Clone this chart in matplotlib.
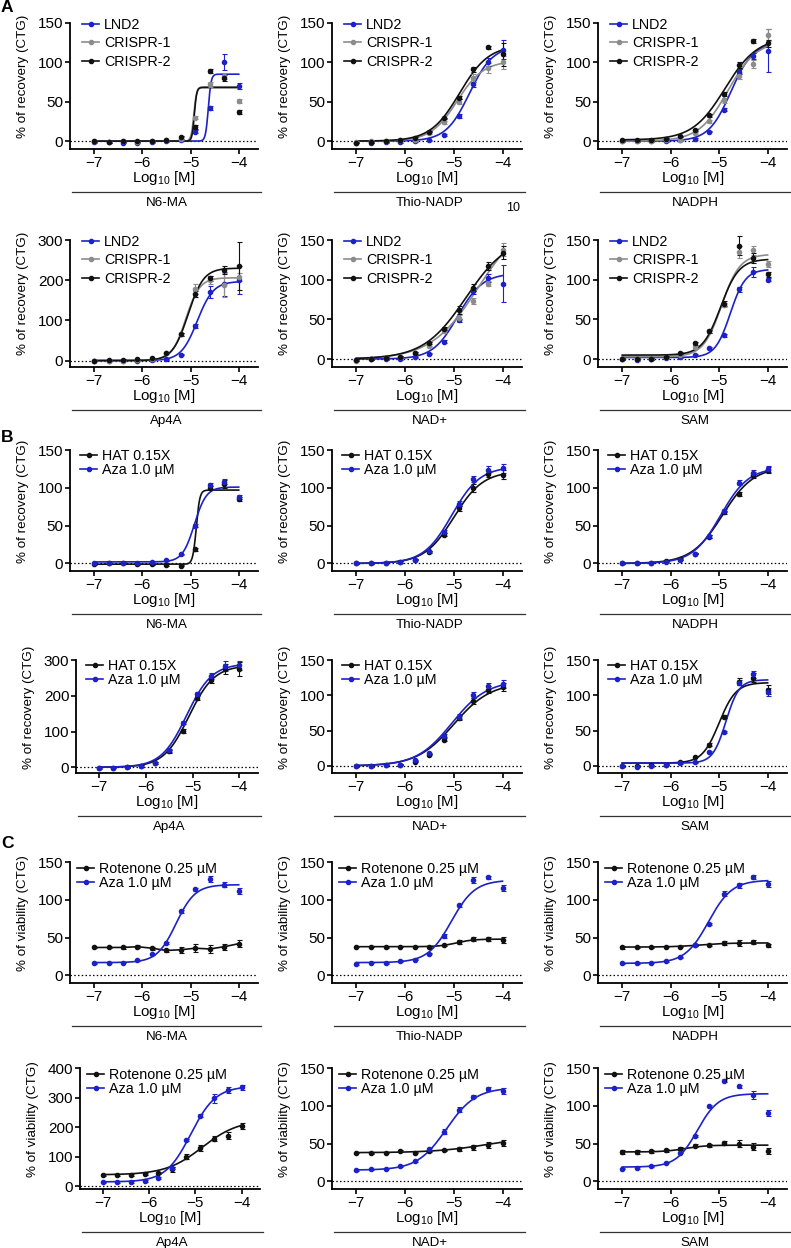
import numpy as np
import matplotlib.pyplot as plt
from matplotlib.lines import Line2D

plt.rcParams['font.family'] = ['Liberation Sans', 'DejaVu Sans']
plt.rcParams['mathtext.fontset'] = 'custom'
plt.rcParams['mathtext.rm'] = 'Liberation Sans'
plt.rcParams['mathtext.it'] = 'Liberation Sans'

# ---- data ----
log_conc = [-7.0, -6.7, -6.4, -6.1, -5.8, -5.5, -5.2, -4.9, -4.6, -4.3, -4.0]
compounds = ["N6-MA", "Thio-NADP", "NADPH", "Ap4A", "NAD+", "SAM"]

labels_a = ["LND2", "CRISPR-1", "CRISPR-2"]
labels_b = ["HAT 0.15X", "Aza 1.0 µM"]
labels_c = ["Rotenone 0.25 µM", "Aza 1.0 µM"]

BLUE = '#1c22c8'
GRAY = '#8c8c8c'
BLACK = '#111111'
colors_a = [BLUE, GRAY, BLACK]
colors_b = [BLACK, BLUE]
colors_c = [BLACK, BLUE]

# fit params: (bottom, top, logEC50, hill); None -> points joined
# A: LND2 vs CRISPR lines
a_n6ma = [[-1, -1, -2, -2, -1, 0, 1, 12, 42, 100, 70],
          [0, -1, 0, -1, 0, 1, 3, 30, 72, 83, 51],
          [0, -1, 0, 0, 0, 1, 5, 18, 89, 80, 37]]
a_n6ma_err = [[1, 1, 1, 1, 1, 1, 1, 2, 3, 10, 4],
              [1, 1, 1, 1, 1, 1, 2, 2, 3, 4, 3],
              [1, 1, 1, 1, 1, 1, 2, 3, 3, 4, 2]]
a_n6ma_fit = [(0, 85, -4.63, 15), (0, 69, -4.93, 15), (0, 68, -4.92, 18)]

a_thio = [[-2, -2, -1, -1, 0, 1, 8, 32, 72, 100, 116],
          [-1, 0, 0, 1, 2, 10, 24, 50, 80, 93, 100],
          [-2, -1, 0, 2, 4, 12, 29, 55, 91, 119, 110]]
a_thio_err = [[1, 1, 1, 1, 1, 1, 1, 2, 3, 5, 12],
              [1, 1, 1, 1, 1, 1, 2, 3, 5, 6, 8],
              [1, 1, 1, 1, 1, 1, 1, 2, 3, 2, 15]]
a_thio_fit = [(0, 121, -4.68, 1.8), (0, 102, -4.93, 1.6), (0, 122, -4.88, 1.45)]

a_nadph = [[0, 0, 0, 0, 1, 3, 12, 40, 88, 108, 115],
           [0, 0, 0, 1, 2, 10, 25, 52, 83, 98, 135],
           [1, 1, 2, 3, 6, 14, 33, 60, 97, 127, 124]]
a_nadph_err = [[0.5, 0.5, 0.5, 0.5, 0.5, 1, 1, 2, 3, 4, 27],
               [0.5, 0.5, 0.5, 0.5, 1, 1, 2, 3, 4, 5, 8],
               [0.5, 0.5, 0.5, 0.5, 1, 1, 2, 3, 4, 3, 5]]
a_nadph_fit = [(0, 125, -4.76, 1.9), (0, 128, -4.82, 1.45), (1.5, 132, -4.88, 1.3)]

a_ap4a = [[0, 0, 0, 0, 1, 3, 15, 85, 170, 190, 200],
          [0, 0, 0, 1, 5, 18, 65, 178, 200, 187, 208],
          [0, 1, 2, 3, 6, 20, 65, 165, 205, 225, 235]]
a_ap4a_err = [[1, 1, 1, 1, 1, 2, 2, 5, 15, 30, 35],
              [1, 1, 1, 1, 1, 2, 3, 12, 10, 30, 10],
              [1, 1, 1, 1, 1, 2, 3, 8, 6, 10, 60]]
a_ap4a_fit = [(0, 197, -4.86, 2.6), (0, 206, -5.1, 3.0), (0, 230, -5.05, 2.7)]

a_nad = [[-1, 0, 0, 0, 2, 7, 22, 49, 86, 102, 95],
         [-2, 0, 1, 3, 8, 16, 35, 52, 73, 95, 138],
         [-1, 0, 1, 3, 8, 20, 38, 62, 90, 117, 134]]
a_nad_err = [[1, 1, 1, 1, 1, 1, 2, 2, 4, 5, 23],
             [1, 1, 1, 1, 1, 1, 2, 3, 4, 3, 8],
             [1, 1, 1, 1, 1, 1, 2, 5, 4, 5, 8]]
a_nad_fit = [(0, 108, -4.92, 1.7), (0, 180, -4.5, 0.9), (0, 155, -4.75, 1.0)]

a_sam = [[0, -1, 0, 1, 2, 5, 14, 30, 88, 110, 100],
         [0, 0, 0, 2, 5, 15, 35, 68, 135, 137, 120],
         [0, 0, 0, 3, 8, 20, 35, 70, 143, 127, 107]]
a_sam_err = [[1, 1, 1, 1, 1, 1, 1, 2, 3, 6, 2],
             [1, 1, 1, 1, 1, 1, 2, 3, 8, 6, 4],
             [1, 1, 1, 1, 1, 2, 2, 3, 12, 6, 3]]
a_sam_fit = [(2, 113, -4.77, 2.8), (3, 132, -4.95, 2.3), (5, 126, -4.97, 2.3)]

# B: HAT vs Aza
b_n6ma = [[-1, 0, 0, -1, -1, -2, -3, 19, 100, 105, 85],
          [1, 0, 1, 0, 2, 4, 12, 50, 104, 108, 88]]
b_n6ma_err = [[1, 1, 1, 1, 1, 1, 1, 2, 2, 5, 3],
              [1, 1, 1, 1, 1, 1, 1, 2, 2, 3, 3]]
b_n6ma_fit = [(-1, 97, -4.88, 12), (2, 101, -4.92, 3.5)]

b_thio = [[0, 0, 1, 2, 5, 15, 38, 73, 100, 118, 117],
          [0, 0, 1, 2, 5, 16, 42, 79, 112, 124, 126]]
b_thio_err = [[1, 1, 1, 1, 1, 1, 2, 3, 5, 4, 6],
              [1, 1, 1, 1, 1, 1, 2, 3, 4, 5, 6]]
b_thio_fit = [(0, 122, -5.0, 1.45), (0, 128, -5.04, 1.5)]

b_nadph = [[0, 0, 1, 3, 6, 13, 35, 68, 92, 117, 124],
           [0, 1, 1, 2, 5, 13, 36, 70, 107, 120, 125]]
b_nadph_err = [[1, 1, 1, 1, 1, 1, 2, 2, 3, 4, 4],
               [1, 1, 1, 1, 1, 1, 2, 2, 3, 4, 4]]
b_nadph_fit = [(0, 128, -4.93, 1.35), (0, 127, -4.97, 1.5)]

b_ap4a = [[-2, -1, 0, 3, 12, 45, 102, 195, 245, 275, 275],
          [-1, -1, 0, 3, 12, 48, 125, 205, 255, 283, 285]]
b_ap4a_err = [[2, 2, 2, 2, 3, 4, 5, 6, 8, 15, 20],
              [2, 2, 2, 2, 3, 4, 5, 6, 8, 15, 12]]
b_ap4a_fit = [(0, 285, -5.08, 1.6), (0, 290, -5.13, 1.6)]

b_nad = [[0, 0, 1, 2, 6, 16, 37, 68, 92, 108, 112],
         [0, 0, 1, 2, 8, 18, 43, 70, 100, 113, 116]]
b_nad_err = [[1, 1, 1, 1, 1, 1, 2, 3, 4, 5, 6],
             [1, 1, 1, 1, 1, 1, 2, 3, 4, 4, 5]]
b_nad_fit = [(0, 118, -5.0, 1.15), (0, 121, -5.04, 1.2)]

b_sam = [[0, 0, 1, 2, 6, 13, 30, 70, 119, 125, 108],
         [0, -1, 0, 2, 4, 5, 20, 48, 118, 130, 105]]
b_sam_err = [[1, 1, 1, 1, 1, 1, 2, 2, 5, 6, 6],
             [1, 1, 1, 1, 1, 1, 1, 2, 3, 5, 6]]
b_sam_fit = [(4, 118, -5.0, 2.5), (4, 122, -4.86, 3.2)]

# C: Rotenone vs Aza
c_n6ma = [[37, 37, 37, 38, 36, 33, 34, 36, 35, 38, 42],
          [16, 17, 17, 20, 28, 43, 85, 114, 127, 120, 112]]
c_n6ma_err = [[1, 1, 2, 2, 2, 2, 4, 5, 5, 4, 5],
              [1, 1, 1, 1, 1, 1, 2, 2, 4, 3, 4]]
c_n6ma_fit = [None, (17, 120, -5.3, 2.2)]

c_thio = [[38, 38, 37, 38, 38, 38, 40, 44, 48, 48, 47],
          [15, 17, 16, 19, 21, 29, 52, 93, 126, 130, 115]]
c_thio_err = [[1, 1, 1, 1, 1, 1, 1, 3, 3, 3, 4],
              [1, 1, 1, 1, 1, 1, 3, 2, 4, 2, 4]]
c_thio_fit = [(38, 48, -4.95, 2.5), (17, 126, -5.05, 1.8)]

c_nadph = [[37, 37, 37, 38, 38, 40, 40, 43, 43, 44, 40],
           [16, 16, 17, 19, 24, 40, 68, 108, 119, 130, 121]]
c_nadph_err = [[2, 1, 1, 1, 1, 1, 1, 3, 4, 3, 2],
               [1, 1, 1, 1, 1, 1, 1, 3, 3, 3, 4]]
c_nadph_fit = [(37.5, 43, -5.4, 1.5), (16, 126, -5.22, 1.8)]

c_ap4a = [[38, 38, 38, 42, 45, 57, 100, 130, 160, 170, 205],
          [13, 14, 14, 17, 28, 62, 155, 238, 297, 325, 335]]
c_ap4a_err = [[3, 3, 3, 3, 4, 8, 10, 10, 8, 12, 10],
              [2, 2, 2, 2, 3, 3, 4, 5, 15, 10, 8]]
c_ap4a_fit = [(38, 225, -4.85, 1.1), (14, 338, -5.1, 1.6)]

c_nad = [[38, 37, 38, 40, 38, 40, 41, 43, 45, 48, 51],
         [15, 16, 17, 20, 27, 43, 66, 95, 112, 122, 120]]
c_nad_err = [[1, 1, 1, 1, 1, 1, 1, 3, 3, 4, 4],
             [1, 1, 1, 1, 1, 1, 3, 3, 2, 3, 4]]
c_nad_fit = [(38, 60, -4.3, 0.8), (15, 124, -5.15, 1.45)]

c_sam = [[39, 39, 40, 41, 43, 47, 48, 51, 50, 46, 40],
         [17, 18, 20, 25, 38, 60, 100, 133, 126, 114, 91]]
c_sam_err = [[3, 3, 2, 2, 2, 2, 2, 3, 5, 5, 4],
             [1, 1, 1, 1, 1, 1, 1, 2, 2, 5, 4]]
c_sam_fit = [(39, 48, -5.7, 2.0), (19, 116, -5.45, 2.0)]

ymax_a = [150, 150, 150, 300, 150, 150]
ymax_b = [150, 150, 150, 300, 150, 150]
ymax_c = [150, 150, 150, 400, 150, 150]


def four_pl(x, bottom, top, logec50, hill):
    return bottom + (top - bottom) / (1 + 10 ** ((logec50 - x) * hill))


W, H = 791, 1248
fig = plt.figure(figsize=(W / 100, H / 100), dpi=100)

COL_L = [70, 332, 598]
COL_R = [258, 522, 787]
ROW_T = [23, 240, 450, 660, 862, 1068]
ROW_B = [149, 367, 571, 773, 983, 1189]

groups = [
    ("A", labels_a, colors_a, "% of recovery (CTG)", ymax_a,
     [a_n6ma, a_thio, a_nadph, a_ap4a, a_nad, a_sam],
     [a_n6ma_err, a_thio_err, a_nadph_err, a_ap4a_err, a_nad_err, a_sam_err],
     [a_n6ma_fit, a_thio_fit, a_nadph_fit, a_ap4a_fit, a_nad_fit, a_sam_fit],
     (12, 3, 0.3)),
    ("B", labels_b, colors_b, "% of recovery (CTG)", ymax_b,
     [b_n6ma, b_thio, b_nadph, b_ap4a, b_nad, b_sam],
     [b_n6ma_err, b_thio_err, b_nadph_err, b_ap4a_err, b_nad_err, b_sam_err],
     [b_n6ma_fit, b_thio_fit, b_nadph_fit, b_ap4a_fit, b_nad_fit, b_sam_fit],
     (10, 7, 0.02)),
    ("C", labels_c, colors_c, "% of viability (CTG)", ymax_c,
     [c_n6ma, c_thio, c_nadph, c_ap4a, c_nad, c_sam],
     [c_n6ma_err, c_thio_err, c_nadph_err, c_ap4a_err, c_nad_err, c_sam_err],
     [c_n6ma_fit, c_thio_fit, c_nadph_fit, c_ap4a_fit, c_nad_fit, c_sam_fit],
     (7, 8, 0.02)),
]

xs = np.linspace(-7, -4, 400)

for g, (letter, labels, colors, ylab, ymaxs, means, errs, fits, leg) in enumerate(groups):
    for k in range(6):
        row = 2 * g + k // 3
        col = k % 3
        left, right = COL_L[col], COL_R[col]
        if row == 3 and col == 0:
            left = 76
        if row == 5 and col == 0:
            left, right = 80, 260
        top, bot = ROW_T[row], ROW_B[row]
        w, h = right - left, bot - top
        ax = fig.add_axes([left / W, 1 - bot / H, w / W, h / H])

        ymax = ymaxs[k]
        ymin = -10 if ymax != 300 else -16
        ax.axhline(0, color='black', lw=0.9, ls=(0, (1.2, 1.8)), zorder=1)

        for m, e, f, c in zip(means[k], errs[k], fits[k], colors):
            if f is not None:
                ax.plot(xs, four_pl(xs, *f), color=c, lw=1.2, zorder=2)
            else:
                ax.plot(log_conc, m, color=c, lw=1.2, zorder=2)
            ax.errorbar(log_conc, m, yerr=e, fmt='o', ms=3.0, mfc=c, mec=c,
                        ecolor=c, elinewidth=0.8, capsize=1.8, capthick=0.8,
                        zorder=3, clip_on=False)

        ax.set_xlim(-7.5, -3.6)
        ax.set_ylim(ymin, ymax)
        ax.set_xticks([-7, -6, -5, -4])
        step = 50 if ymax == 150 else 100
        ax.set_yticks(np.arange(0, ymax + 1, step))
        for s in ['top', 'right']:
            ax.spines[s].set_visible(False)
        for s in ['left', 'bottom']:
            ax.spines[s].set_linewidth(1.3)
        ax.tick_params(direction='out', length=3.6, width=1.2, labelsize=11, pad=1.2)

        ax.set_ylabel(ylab, fontsize=9.6)
        ax.yaxis.set_label_coords(-47 / w, 0.58)
        ax.yaxis.label.set_verticalalignment('center')
        ax.set_xlabel(r'Log$_{\mathrm{10}}$ [M]', fontsize=10.8)
        ax.xaxis.set_label_coords(0.5, -29 / h)
        ax.xaxis.label.set_verticalalignment('center')

        handles = [Line2D([], [], color=c, marker='o', ms=3.0, lw=1.2) for c in colors]
        dx, dy, lsp = leg
        ax.legend(handles, labels, loc='upper left',
                  bbox_to_anchor=(dx / w, 1 - (dy - 8) / h),
                  frameon=False, fontsize=10.3, borderpad=0, borderaxespad=0,
                  handlelength=1.2, handletextpad=0.35, labelspacing=lsp,
                  numpoints=1)

        # compound name with rule above it
        yl = 1 - (bot + 43) / H
        fig.add_artist(Line2D([(left + 2) / W, (right + 3) / W], [yl, yl],
                              color='#333333', lw=0.9))
        fig.text((left + right + 5) / 2 / W, 1 - (bot + 54) / H, compounds[k],
                 ha='center', va='center', fontsize=9.6)

    fig.text(1 / W, 1 - [8, 437, 843][g] / H, letter, fontsize=12.5,
             fontweight='bold', ha='left', va='center')

fig.text(513 / W, 1 - 208 / H, "10", fontsize=9, ha='center', va='center')

fig.savefig('out.png', dpi=100)
